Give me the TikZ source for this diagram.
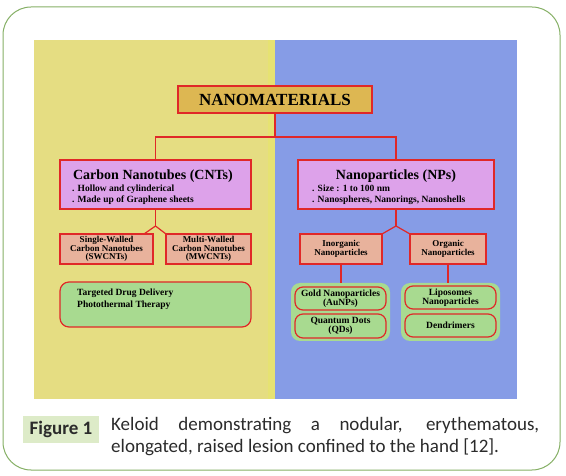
\documentclass[tikz,border=0pt]{standalone}
\usepackage{fontspec}
\setmainfont{Liberation Serif}
\newfontfamily\capfont{Carlito}
\usetikzlibrary{calc}
\definecolor{frameg}{HTML}{86B066}
\definecolor{panely}{HTML}{E5DD82}
\definecolor{panelyb}{HTML}{E6E272}
\definecolor{panelb}{HTML}{869CE6}
\definecolor{redl}{HTML}{E02828}
\definecolor{goldf}{HTML}{DDB752}
\definecolor{pinkf}{HTML}{DDA2EA}
\definecolor{salmf}{HTML}{E8B29C}
\definecolor{greenf}{HTML}{A8DA90}
\definecolor{figf}{HTML}{DDEBC8}
\definecolor{captxt}{HTML}{2B2B2B}
\tikzset{
  box/.style={draw=redl, line width=1.2pt, inner sep=0pt, outer sep=0pt},
  pinkbox/.style={box, fill=pinkf},
  salmbox/.style={box, fill=salmf, align=center, font=\fontsize{9}{8.7}\selectfont\bfseries},
  greenbox/.style={box, fill=greenf, rounded corners=9pt},
  gcont/.style={fill=greenf, rounded corners=9pt, inner sep=0pt, outer sep=0pt},
  ibox/.style={box, fill=greenf, rounded corners=8pt, align=center, font=\fontsize{9.5}{9}\selectfont\bfseries},
  redline/.style={draw=redl, line width=1.2pt},
  bullet/.style={anchor=base west, inner sep=0pt, font=\fontsize{9.5}{11}\selectfont\bfseries},
  title/.style={anchor=base, inner sep=0pt, font=\fontsize{14}{16}\selectfont\bfseries},
}
\begin{document}
\begin{tikzpicture}[x=1pt,y=-1pt]
\path[use as bounding box] (0,0) rectangle (566,476);
\fill[white] (0,0) rectangle (566,476);
% frame
\draw[frameg, line width=1pt, rounded corners=28pt] (3,7) rectangle (560,470);
% panels
\fill[panely] (34,40) rectangle (275,399);
\fill[panelyb] (268,40) rectangle (275,399);
\fill[panelb] (275,40) rectangle (517,399);
% top
\node[box, fill=goldf, minimum width=194pt, minimum height=27pt, font=\fontsize{17}{19}\selectfont\bfseries] (nano) at (275,99.5) {NANOMATERIALS};
% level 2 boxes
\node[pinkbox, minimum width=191pt, minimum height=49pt] (cnt) at (155.5,184.5) {};
\node[pinkbox, minimum width=196pt, minimum height=49pt] (np) at (396,184.5) {};
\node[title] (cntt) at (153,179.5) {Carbon Nanotubes (CNTs)};
\node[bullet] (cntb1) at (72,192) {. Hollow and cylinderical};
\node[bullet] (cntb2) at (72,203) {. Made up of Graphene sheets};
\node[title] (npt) at (396,179.5) {Nanoparticles (NPs)};
\node[bullet] (npb1) at (312,192) {. Size : 1 to 100 nm};
\node[bullet] (npb2) at (312,203) {. Nanospheres, Nanorings, Nanoshells};
% level 3
\node[salmbox, minimum width=93pt, minimum height=30pt] (sw) at (106.5,249) {Single-Walled\\Carbon Nanotubes\\(SWCNTs)};
\node[salmbox, minimum width=85pt, minimum height=30pt] (mw) at (208.5,249) {Multi-Walled\\Carbon Nanotubes\\(MWCNTs)};
\node[salmbox, minimum width=82pt, minimum height=30pt] (inorg) at (341,249) {Inorganic\\Nanoparticles};
\node[salmbox, minimum width=76pt, minimum height=30pt] (org) at (448,249) {Organic\\Nanoparticles};
% level 4
\node[greenbox, minimum width=191pt, minimum height=45pt] (use) at (155.5,304.5) {};
\node[anchor=west, inner sep=0pt, align=left, font=\fontsize{9.5}{12}\selectfont\bfseries] (usetxt) at (77,299) {Targeted Drug Delivery\\Photothermal Therapy};
\node[gcont, minimum width=99pt, minimum height=58pt] (lcont) at (340.5,312) {};
\node[gcont, minimum width=99pt, minimum height=58pt] (rcont) at (450.5,312) {};
\node[ibox, minimum width=91pt, minimum height=23pt] (gold) at (340.5,298.5) {Gold Nanoparticles\\(AuNPs)};
\node[ibox, minimum width=91pt, minimum height=24pt] (qd) at (340.5,326) {Quantum Dots\\(QDs)};
\node[ibox, minimum width=91pt, minimum height=23pt] (lipo) at (450.5,297.5) {Liposomes\\Nanoparticles};
\node[ibox, minimum width=91pt, minimum height=23pt] (dend) at (450.5,325.5) {Dendrimers};
% connectors
\draw[redline] (nano.south) -- ++(0,24) -| (cnt.north);
\draw[redline] (nano.south) -- ++(0,24) -| (np.north);
\draw[redline] (cnt.south) -- ++(0,17) coordinate (j1);
\draw[redline] (j1) -- ([xshift=-9pt]sw.north east);
\draw[redline] (j1) -- (mw.north west);
\draw[redline] (np.south) -- ++(0,17) coordinate (j2);
\draw[redline] (j2) -- (inorg.north east);
\draw[redline] (j2) -- (org.north west);
\draw[redline] (inorg.south) -- (inorg.south |- lcont.north);
\draw[redline] (org.south) -- (org.south |- rcont.north);
% caption
\node[fill=figf, minimum width=76pt, minimum height=27pt, inner sep=0pt, text=captxt, font=\capfont\fontsize{19}{22}\selectfont\bfseries] (fig) at (61,429.5) {Figure 1};
\node[anchor=base west, inner sep=0pt, text=captxt, font=\capfont\fontsize{19}{22}\selectfont] (cap1) at (111,430) {\makebox[428pt][s]{Keloid demonstrating a nodular, erythematous,}};
\node[anchor=base west, inner sep=0pt, text=captxt, font=\capfont\fontsize{19}{22}\selectfont] (cap2) at (111,453) {elongated, raised lesion confined to the hand [12].};
\end{tikzpicture}
\end{document}
